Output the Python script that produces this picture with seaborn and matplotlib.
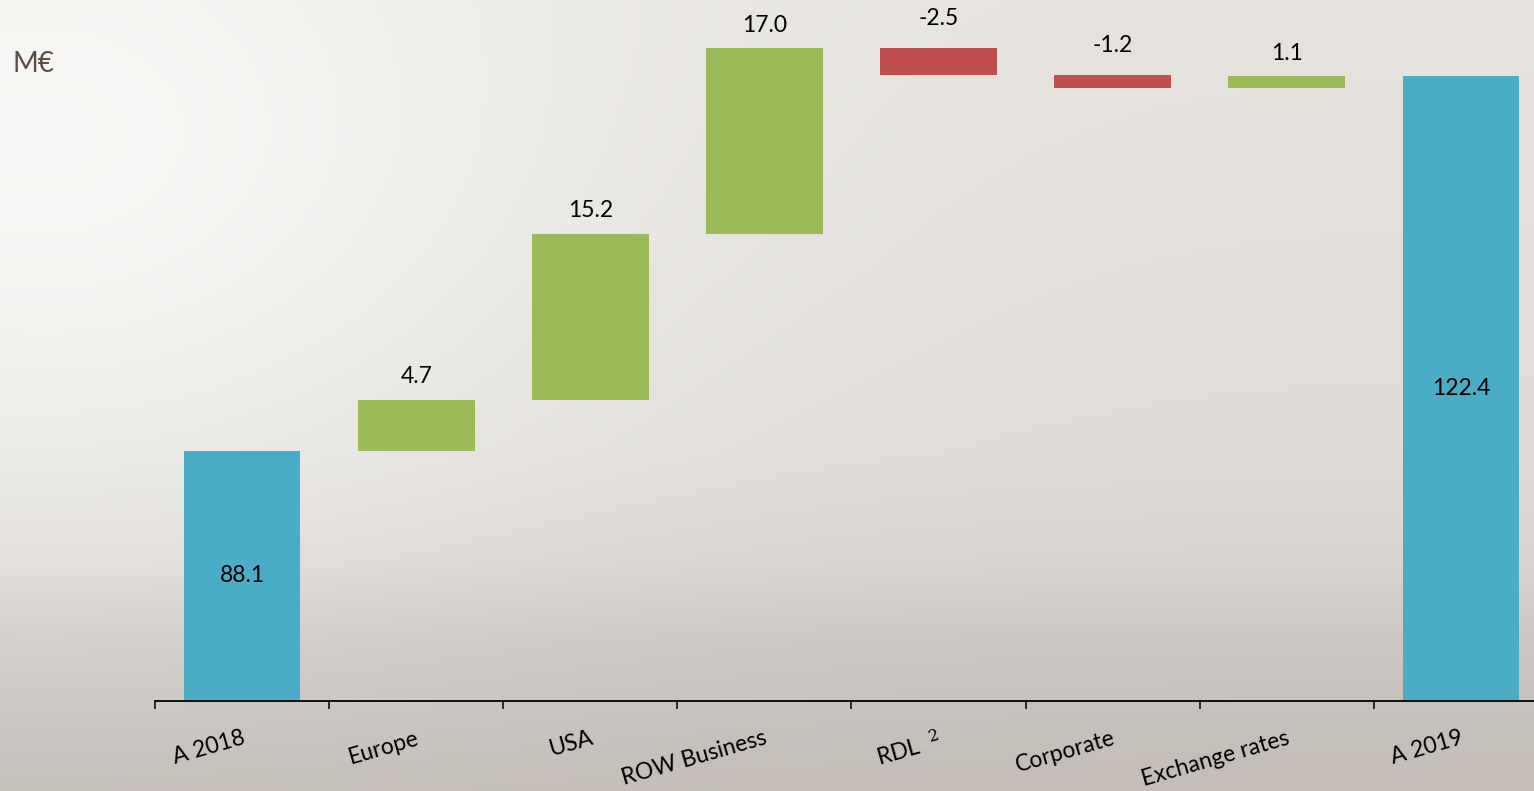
import numpy as np
import pandas as pd
import matplotlib
matplotlib.use("Agg")
import matplotlib.pyplot as plt
from matplotlib.colors import to_rgb
from matplotlib.transforms import ScaledTranslation
import seaborn as sns

# Waterfall data (M€)
categories = ["A 2018", "Europe", "USA", "ROW Business", "RDL  $^{2}$", "Corporate", "Exchange rates", "A 2019"]
values = [88.1, 4.7, 15.2, 17.0, -2.5, -1.2, 1.1, 122.4]
kinds = ["total", "delta", "delta", "delta", "delta", "delta", "delta", "total"]

unit_label = "M€"
y_floor = 65.2
y_ceiling = 129.4

COLOR_TOTAL = "#4BACC6"
COLOR_UP = "#9BBB59"
COLOR_DOWN = "#C0504D"

# Floating-bar geometry derived from the running total
bottoms, heights, colors = [], [], []
running = 0.0
for v, k in zip(values, kinds):
    if k == "total":
        bottoms.append(0.0)
        heights.append(v)
        colors.append(COLOR_TOTAL)
        running = v
    else:
        lo = running if v >= 0 else running + v
        bottoms.append(lo)
        heights.append(abs(v))
        colors.append(COLOR_UP if v >= 0 else COLOR_DOWN)
        running += v

df = pd.DataFrame({"category": categories, "height": heights})

sns.set_style("white")
plt.rcParams["font.family"] = ["Lato", "DejaVu Sans"]
plt.rcParams["mathtext.fontset"] = "dejavuserif"

W, H = 1534, 791
fig = plt.figure(figsize=(W / 100, H / 100), dpi=100)

# Soft photographic backdrop: light top-left glow fading to warm grey at the bottom
yy, xx = np.mgrid[0:H, 0:W]
stops_y = [0, 450, 560, 640, 791]
stops_c = [to_rgb("#e6e3df"), to_rgb("#dfdcd9"), to_rgb("#d9d5d2"), to_rgb("#ccc7c3"), to_rgb("#c3bcb7")]
base = np.zeros((H, W, 3))
for c in range(3):
    col = np.interp(np.arange(H), stops_y, [s[c] for s in stops_c])
    base[:, :, c] = col[:, None]
glow = np.exp(-(((xx - 40) / 560.0) ** 2 + ((yy - 140) / 400.0) ** 2))
bright = np.array(to_rgb("#fafaf8"))
img = base * (1 - 0.9 * glow[..., None]) + bright * 0.9 * glow[..., None]
bg = fig.add_axes([0, 0, 1, 1])
bg.imshow(img, aspect="auto", extent=(0, W, H, 0), interpolation="bilinear")
bg.axis("off")

ax = fig.add_axes([155 / W, 90 / H, 1393 / W, 701 / H])
ax.patch.set_alpha(0)

sns.barplot(data=df, x="category", y="height", order=categories, bottom=bottoms,
            width=0.67, color=COLOR_TOTAL, saturation=1, errorbar=None, ax=ax)
for patch, c in zip(ax.patches, colors):
    patch.set_facecolor(c)
    patch.set_edgecolor("none")

ax.set_xlim(-0.5, len(categories) - 0.5)
ax.set_ylim(y_floor, y_ceiling)
ax.set_xlabel("")
ax.set_ylabel("")
ax.set_yticks([])
for side in ["left", "right", "top"]:
    ax.spines[side].set_visible(False)
ax.spines["bottom"].set_color("black")
ax.spines["bottom"].set_linewidth(1.3)

# Labels centred under each bar, tick marks at category boundaries
ax.set_xticks(range(len(categories)))
ax.set_xticklabels(categories, rotation=16, ha="right", fontsize=16.5, color="black")
ax.tick_params(axis="x", which="major", bottom=False, length=0, pad=19)
shift = ScaledTranslation(5 / 100, 0, fig.dpi_scale_trans)
for lbl in ax.get_xticklabels():
    lbl.set_transform(lbl.get_transform() + shift)
ax.set_xticks(np.arange(-0.5, len(categories)), minor=True)
ax.tick_params(axis="x", which="minor", bottom=True, length=5.5, width=1.1,
               color="black", direction="out")

# Value labels
for i, (v, k) in enumerate(zip(values, kinds)):
    if k == "total":
        ax.text(i, (y_floor + v) / 2, f"{v:.1f}", ha="center", va="center", fontsize=16.5, color="black")
    else:
        top = bottoms[i] + heights[i]
        off = 9 if v >= 0 else 14
        ax.annotate(f"{v:.1f}", (i, top), xytext=(0, off), textcoords="offset points",
                    ha="center", va="bottom", fontsize=16.5, color="black")

fig.text(12 / W, 1 - 72 / H, unit_label, fontsize=20, color="#5b4e45", ha="left", va="baseline")

fig.savefig("out.png", dpi=100)
